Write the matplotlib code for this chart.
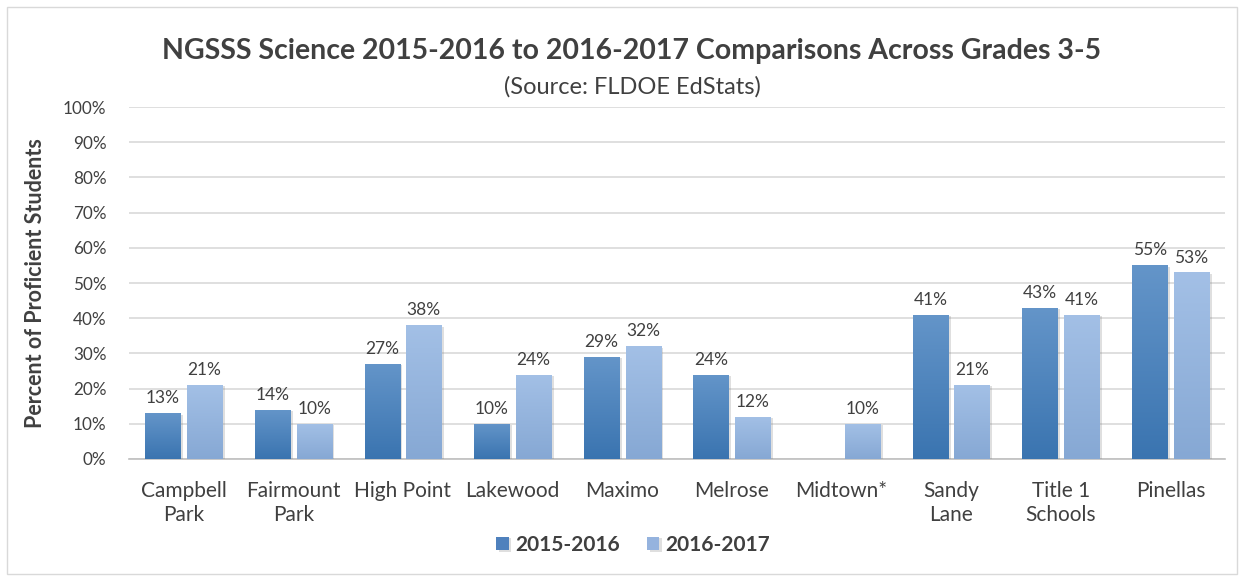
import numpy as np
import matplotlib.pyplot as plt
from matplotlib.patches import Rectangle
from matplotlib.colors import LinearSegmentedColormap
import matplotlib.patheffects as pe

plt.rcParams['font.family'] = ['Lato', 'DejaVu Sans']

schools = ['Campbell\nPark', 'Fairmount\nPark', 'High Point', 'Lakewood', 'Maximo',
           'Melrose', 'Midtown*', 'Sandy\nLane', 'Title 1\nSchools', 'Pinellas']
y2015 = [13, 14, 27, 10, 29, 24, np.nan, 41, 43, 55]
y2016 = [21, 10, 38, 24, 32, 12, 10, 21, 41, 53]
series_names = ['2015-2016', '2016-2017']

text_col = '#404040'
cmap_dark = LinearSegmentedColormap.from_list('d', ['#3a74b0', '#6495c9'])
cmap_light = LinearSegmentedColormap.from_list('l', ['#86a8d4', '#a3c0e6'])


def gradient_bars(ax, bars, cmap):
    # paint a vertical gradient inside each bar
    grad = np.linspace(0, 1, 256).reshape(-1, 1)
    for b in bars:
        h = b.get_height()
        if np.isnan(h) or h == 0:
            continue
        x0 = b.get_x()
        w = b.get_width()
        im = ax.imshow(grad, cmap=cmap, origin='lower', aspect='auto',
                       extent=(x0, x0 + w, 0, h), zorder=3)
        im.set_clip_path(b)


fig = plt.figure(figsize=(12.44, 5.81), dpi=100)
fig.patches.append(Rectangle((0.006, 0.012), 0.988, 0.976, transform=fig.transFigure,
                             fill=False, edgecolor='#d9d9d9', linewidth=1))
ax = fig.add_axes([0.1035, 0.21, 0.8815, 0.6058])

x = np.arange(len(schools))
bw = 0.32
off = 0.19
shadow = [pe.SimplePatchShadow(offset=(2, -1), alpha=0.25, shadow_rgbFace='#808080'), pe.Normal()]
b1 = ax.bar(x - off, y2015, bw, color='#4f81bd', zorder=3, label=series_names[0])
b2 = ax.bar(x + off, y2016, bw, color='#95b3de', zorder=3, label=series_names[1])
for b in list(b1) + list(b2):
    b.set_path_effects(shadow)
gradient_bars(ax, b1, cmap_dark)
gradient_bars(ax, b2, cmap_light)

for xs, vals in [(x - off, y2015), (x + off, y2016)]:
    for xi, v in zip(xs, vals):
        if np.isnan(v):
            continue
        ax.annotate(f'{v:.0f}%', (xi, v), xytext=(0, 5), textcoords='offset points',
                    ha='center', va='bottom', fontsize=12.5, color=text_col)

ax.set_xlim(-0.5, len(schools) - 0.5)
ax.set_ylim(0, 100)
ax.set_yticks(np.arange(0, 101, 10))
ax.set_yticklabels([f'{t}%' for t in range(0, 101, 10)])
ax.set_xticks(x)
ax.set_xticklabels(schools, linespacing=1.25)
ax.tick_params(axis='both', length=0, labelcolor=text_col)
ax.tick_params(axis='y', pad=16, labelsize=12.3)
ax.tick_params(axis='x', pad=16, labelsize=15)
ax.grid(axis='y', color='#d9d9d9', linewidth=1.2, zorder=0)
ax.set_axisbelow(True)
for s in ['top', 'right', 'left']:
    ax.spines[s].set_visible(False)
ax.spines['bottom'].set_color('#bfbfbf')
ax.spines['bottom'].set_linewidth(1.2)

ax.set_ylabel('Percent of Proficient Students', fontsize=15.5, fontweight='bold',
              color=text_col, labelpad=12)

fig.text(0.508, 0.913, 'NGSSS Science 2015-2016 to 2016-2017 Comparisons Across Grades 3-5',
         ha='center', va='center', fontsize=20.5, fontweight='bold', color=text_col)
fig.text(0.508, 0.851, '(Source: FLDOE EdStats)', ha='center', va='center',
         fontsize=17, color=text_col)

leg = fig.legend(handles=[b1, b2], labels=series_names, loc='center',
                 bbox_to_anchor=(0.509, 0.062), ncol=2, frameon=False,
                 handlelength=0.6, handleheight=0.6, handletextpad=0.3,
                 columnspacing=1.3, prop={'weight': 'bold', 'size': 15})
for t in leg.get_texts():
    t.set_color(text_col)

fig.savefig('out.png', dpi=100)
